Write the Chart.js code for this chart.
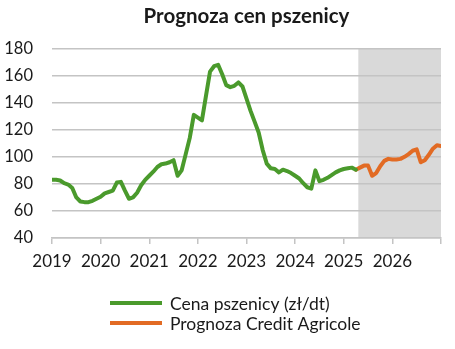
<!DOCTYPE html>
<html lang="pl">
<head>
<meta charset="utf-8">
<title>Prognoza cen pszenicy</title>
<script src="https://cdn.jsdelivr.net/npm/chart.js@4.4.1/dist/chart.umd.min.js"></script>
<style>
  html, body { margin: 0; padding: 0; background: #ffffff; }
  #wrap { width: 455px; height: 349px; position: relative; }
</style>
</head>
<body>
<div id="wrap"><canvas id="chart"></canvas></div>
<script>
// Monthly wheat price (zł/dt), month index 0 = January 2019
const firstYear = 2019;
const priceHistory = [
  83, 83, 82.5, 80.5, 79.5, 77, 70, 67, 66.5, 66.5, 67.5, 69,          // 2019
  70.5, 73, 74, 75, 81, 81.5, 75, 69, 70, 73.5, 79, 83,               // 2020
  86, 89, 92.5, 94.5, 95, 96, 97.5, 86, 90, 102, 114, 131,            // 2021
  129, 127, 145, 163, 167, 168, 161, 153, 151.5, 152.5, 155, 152,     // 2022
  143, 134, 126, 118, 105, 95, 91.5, 91, 88.5, 90.5, 89.5, 88,        // 2023
  86, 84, 80.5, 77.5, 76.5, 90, 82, 83, 84.5, 86.5, 88.5, 90,         // 2024
  91, 91.5, 92, 90.5                                                  // 2025 Jan-Apr
];
// Credit Agricole forecast, starting from the last observed month (April 2025)
const forecastStartMonth = priceHistory.length - 1;
const priceForecast = [
  90.5, 92, 93.5, 93.5, 86, 88, 93, 97, 98.5,                        // 2025 Apr-Dec
  98, 98, 98.5, 100, 102, 104.5, 105.5, 96, 97.5, 101.5, 106, 108.5,  // 2026
  108
];
const shadeFromMonth = 75.6;   // start of the forecast period band
const lastMonth = 96;
const yTicks = [40, 60, 80, 100, 120, 140, 160, 180];

const historyPoints = priceHistory.map((v, i) => ({ x: i, y: v }));
const forecastPoints = priceForecast.map((v, i) => ({ x: forecastStartMonth + i, y: v }));

const FONT = 'Lato, "Open Sans", sans-serif';
const TEXT = '#1a1a1a';
const GRID = '#c4c4c4';

// Grey band behind the forecast months
const forecastBand = {
  id: 'forecastBand',
  beforeDraw(chart) {
    const { ctx, chartArea, scales } = chart;
    const x0 = scales.x.getPixelForValue(shadeFromMonth);
    const x1 = scales.x.getPixelForValue(lastMonth);
    ctx.save();
    ctx.fillStyle = '#d9d9d9';
    ctx.fillRect(x0, chartArea.top, x1 - x0, chartArea.bottom - chartArea.top);
    ctx.restore();
  }
};

// Two-row legend with left-aligned entries
const stackedLegend = {
  id: 'stackedLegend',
  afterDraw(chart) {
    const { ctx } = chart;
    const sample = 52, gap = 8, rowGap = 20;
    ctx.save();
    ctx.font = '17.5px ' + FONT;
    const widths = chart.data.datasets.map(d => ctx.measureText(d.label).width);
    const blockW = sample + gap + Math.max(...widths);
    const left = Math.round((chart.width - blockW) / 2) + 8;
    const top = chart.chartArea.bottom + 65;
    chart.data.datasets.forEach((d, i) => {
      const y = top + i * rowGap;
      ctx.strokeStyle = d.borderColor;
      ctx.lineWidth = 4;
      ctx.lineCap = 'butt';
      ctx.beginPath();
      ctx.moveTo(left, y);
      ctx.lineTo(left + sample, y);
      ctx.stroke();
      ctx.fillStyle = TEXT;
      ctx.textBaseline = 'middle';
      ctx.textAlign = 'left';
      ctx.fillText(d.label, left + sample + gap, y + 1);
    });
    ctx.restore();
  }
};

new Chart(document.getElementById('chart'), {
  type: 'line',
  data: {
    datasets: [
      {
        label: 'Cena pszenicy (zł/dt)',
        data: historyPoints,
        borderColor: '#4a9a2c',
        borderWidth: 4,
        pointRadius: 0,
        tension: 0,
        borderJoinStyle: 'round',
        borderCapStyle: 'round'
      },
      {
        label: 'Prognoza Credit Agricole',
        data: forecastPoints,
        borderColor: '#e26b24',
        borderWidth: 4,
        pointRadius: 0,
        tension: 0,
        borderJoinStyle: 'round',
        borderCapStyle: 'round'
      }
    ]
  },
  options: {
    responsive: true,
    maintainAspectRatio: false,
    animation: false,
    layout: { padding: { left: 0, right: 14, top: 0, bottom: 71 } },
    plugins: {
      legend: { display: false },
      tooltip: { enabled: false },
      title: {
        display: true,
        fullSize: false,
        text: 'Prognoza cen pszenicy',
        color: TEXT,
        font: { family: FONT, size: 20.5, weight: 'bold' },
        padding: { top: 4, bottom: 20 }
      }
    },
    scales: {
      x: {
        type: 'linear',
        min: 0,
        max: lastMonth,
        afterFit(scale) { scale.height = 40; },
        afterBuildTicks(scale) {
          const t = [];
          for (let m = 0; m <= lastMonth; m += 12) t.push({ value: m });
          scale.ticks = t;
        },
        ticks: {
          color: TEXT,
          font: { family: FONT, size: 17 },
          padding: 7,
          maxRotation: 0,
          autoSkip: false,
          callback: v => (v < lastMonth ? String(firstYear + v / 12) : '')
        },
        grid: { drawOnChartArea: false, drawTicks: true, tickLength: 6, color: GRID, lineWidth: 1.5 },
        border: { display: true, color: GRID, width: 1.5 }
      },
      y: {
        min: 40,
        max: 180,
        afterFit(scale) { scale.width = 52; },
        afterBuildTicks(scale) { scale.ticks = yTicks.map(v => ({ value: v })); },
        ticks: {
          color: TEXT,
          font: { family: FONT, size: 16.5 },
          padding: 19
        },
        grid: { color: GRID, lineWidth: 1.5, drawTicks: false },
        border: { display: false }
      }
    }
  },
  plugins: [forecastBand, stackedLegend]
});
</script>
</body>
</html>
